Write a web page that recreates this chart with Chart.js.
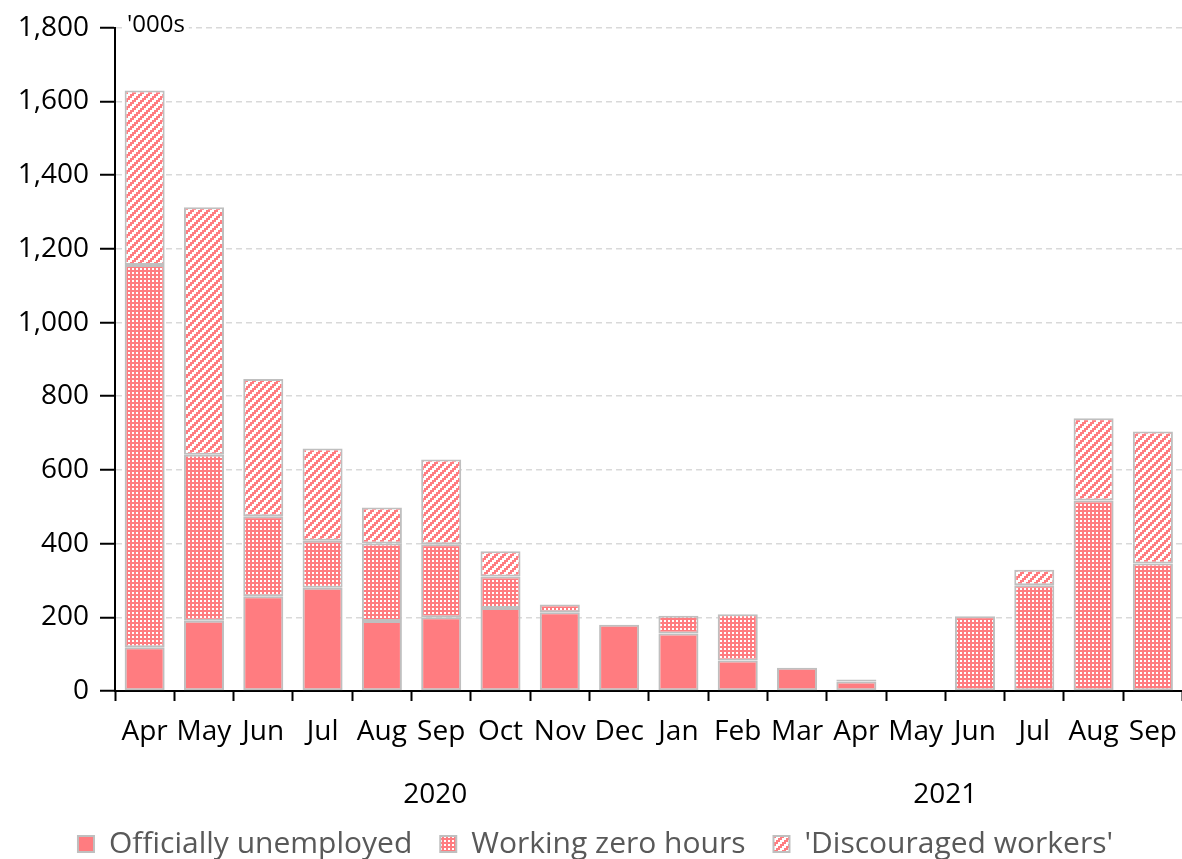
<!DOCTYPE html>
<html>
<head>
<meta charset="utf-8">
<script src="https://cdn.jsdelivr.net/npm/chart.js@4/dist/chart.umd.min.js"></script>
<style>
  html, body { margin: 0; padding: 0; background: #fff; overflow: hidden; }
  #wrap { width: 1191px; height: 869px; }
</style>
</head>
<body>
<div id="wrap"><canvas id="chart"></canvas></div>
<script>
// Labour market slack, '000s
const months = ["Apr", "May", "Jun", "Jul", "Aug", "Sep", "Oct", "Nov", "Dec",
                "Jan", "Feb", "Mar", "Apr", "May", "Jun", "Jul", "Aug", "Sep"];
const years = ["2020", "2021"];
const yearAt = [4.9, 13.5]; // where the year label sits on the category axis

const unemployed  = [119, 191, 257, 280, 190, 200, 225, 214, 180, 156, 83, 63, 26, null, null, null, null, null];
const zeroHours   = [1037, 450, 217, 128, 210, 198, 86, 21, null, 48, 125, null, 5, null, 203, 287, 517, 346];
const discouraged = [474, 672, 373, 250, 98, 230, 68, null, null, null, null, null, null, null, null, 42, 223, 358];

const PINK = "#FF7C80";
const EDGE = "#BFBFBF";
const FONT = '"Open Sans", "DejaVu Sans", sans-serif';

function makePattern(kind) {
  const c = document.createElement("canvas");
  c.width = 8; c.height = 8;
  const g = c.getContext("2d");
  g.fillStyle = "#fff";
  g.fillRect(0, 0, 8, 8);
  g.fillStyle = PINK;
  for (let y = 0; y < 8; y++) {
    for (let x = 0; x < 8; x++) {
      let on;
      if (kind === "grid") on = !((x % 4 < 2) && (y % 4 < 2));
      else on = ((x >> 1) + (y >> 1)) % 4 < 2;
      if (on) g.fillRect(x, y, 1, 1);
    }
  }
  return g.createPattern(c, "repeat");
}

const extras = {
  id: "extras",
  afterDraw(chart) {
    const { ctx, chartArea, scales: { x } } = chart;
    ctx.save();
    // units label over the top gridline
    ctx.font = "24px " + FONT;
    ctx.textBaseline = "middle";
    ctx.textAlign = "left";
    const w = ctx.measureText("'000s").width;
    ctx.fillStyle = "#fff";
    ctx.fillRect(chartArea.left + 10, chartArea.top - 14, w + 6, 28);
    ctx.fillStyle = "#000";
    ctx.fillText("'000s", chartArea.left + 12, chartArea.top - 3);
    // year row
    ctx.font = "28px " + FONT;
    ctx.textAlign = "center";
    years.forEach((yr, i) => ctx.fillText(yr, x.getPixelForValue(yearAt[i]), x.top + 104));
    ctx.restore();
  }
};

const ctx = document.getElementById("chart").getContext("2d");
new Chart(ctx, {
  type: "bar",
  data: {
    labels: months,
    datasets: [
      { label: "Officially unemployed", data: unemployed, backgroundColor: PINK },
      { label: "Working zero hours", data: zeroHours, backgroundColor: makePattern("grid") },
      { label: "'Discouraged workers'", data: discouraged, backgroundColor: makePattern("diag") }
    ].map(d => Object.assign(d, {
      borderColor: EDGE, borderWidth: 2, borderSkipped: false,
      categoryPercentage: 1, barPercentage: 0.675
    }))
  },
  options: {
    responsive: true,
    maintainAspectRatio: false,
    animation: false,
    layout: { padding: { top: 13, left: 0, right: 0, bottom: 0 } },
    plugins: {
      tooltip: { enabled: false },
      legend: {
        position: "bottom",
        labels: {
          boxWidth: 16, boxHeight: 16, padding: 28,
          color: "#595959", font: { family: FONT, size: 30 }
        }
      }
    },
    scales: {
      x: {
        stacked: true,
        grid: { display: true, drawOnChartArea: false, tickLength: 10, tickColor: "#000", tickWidth: 2 },
        border: { color: "#000", width: 2 },
        ticks: { color: "#000", font: { family: FONT, size: 28 }, padding: 14, maxRotation: 0, autoSkip: false },
        afterFit(scale) { scale.height = 110; }
      },
      y: {
        stacked: true,
        min: 0, max: 1800,
        grid: { color: "#D9D9D9", lineWidth: 1.5, tickLength: 15, tickColor: "#000", tickWidth: 2, tickBorderDash: [] },
        border: { color: "#000", width: 2, dash: [6, 4] },
        ticks: { stepSize: 200, color: "#000", font: { family: FONT, size: 28 }, padding: 11 },
        afterFit(scale) { scale.width = 115; }
      }
    }
  },
  plugins: [extras]
});
</script>
</body>
</html>
